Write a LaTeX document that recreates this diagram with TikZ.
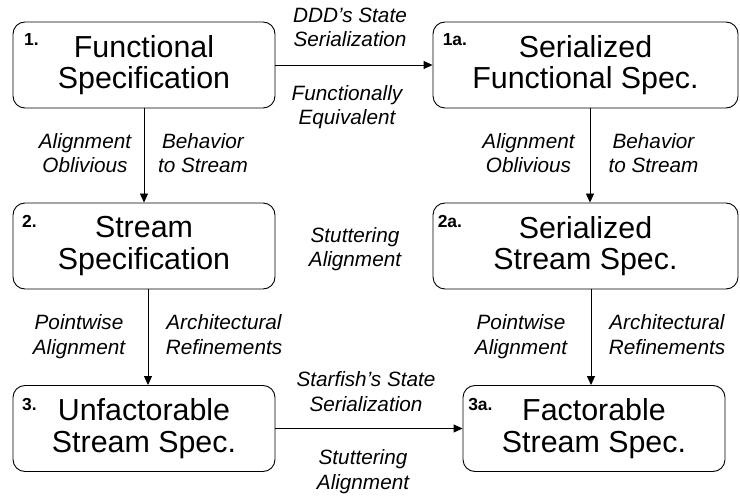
\documentclass[tikz,border=0pt]{standalone}
\usepackage{fontspec}
\setmainfont{Liberation Sans}
\usetikzlibrary{arrows.meta}

\begin{document}
\begin{tikzpicture}[x=1bp,y=-1bp,
  box/.style={draw, rounded corners=12bp, line width=0.9bp, align=center,
    inner sep=0pt, minimum height=86bp, minimum width=262bp,
    font=\fontsize{30.5}{31.6}\selectfont},
  widebox/.style={box, minimum width=305bp},
  tag/.style={font=\fontsize{17.5}{17.5}\selectfont\bfseries, anchor=base west, inner sep=0pt},
  lab/.style={font=\fontsize{20.8}{25}\selectfont\itshape, align=center, anchor=base, inner sep=0pt},
  arr/.style={-{Triangle[length=9bp,width=8bp]}, line width=0.9bp}]
\useasboundingbox (0,0) rectangle (740,497);

% specification boxes
\node[box]     (b1)  at (144,65)    {Functional\\Specification};
\node[widebox] (b1a) at (585.5,65)  {Serialized\\Functional Spec.};
\node[box]     (b2)  at (144,246)   {Stream\\Specification};
\node[widebox] (b2a) at (585.5,246) {Serialized\\Stream Spec.};
\node[box]     (b3)  at (144,428.5) {Unfactorable\\Stream Spec.};
\node[box]     (b3a) at (594,428.5) {Factorable\\Stream Spec.};

% step numbers
\node[tag] (t1)  at ([shift={(11.5,24)}]b1.north west)  {1.};
\node[tag] (t1a) at ([shift={(10,23.5)}]b1a.north west) {1a.};
\node[tag] (t2)  at ([shift={(9.5,24.5)}]b2.north west)  {2.};
\node[tag] (t2a) at ([shift={(5,25)}]b2a.north west) {2a.};
\node[tag] (t3)  at ([shift={(9.5,25)}]b3.north west)  {3.};
\node[tag] (t3a) at ([shift={(5.5,25)}]b3a.north west)  {3a.};

% refinement arrows
\draw[arr] (b1) -- (b1a);
\draw[arr] (b1.south) -- (b2.north);
\draw[arr] ([xshift=4.5bp]b1a.south) -- ([xshift=4.5bp]b1a.south |- b2a.north);
\draw[arr] ([xshift=4bp]b2.south) -- ([xshift=4bp]b2.south |- b3.north);
\draw[arr] ([xshift=5.5bp]b2a.south) -- ([xshift=5.5bp]b2a.south |- b3a.north);
\draw[arr] (b3) -- (b3a);

% arrow labels (placed by the baseline of their last line)
\node[lab] (l1t) at (350,47)   {DDD’s State\\Serialization};
\node[lab] (l1b) at (347,125)  {Functionally\\Equivalent};
\node[lab] (l2l) at (85,173)   {Alignment\\Oblivious};
\node[lab] (l2r) at (203,173)  {Behavior\\to Stream};
\node[lab] (l2al) at (528.5,173) {Alignment\\Oblivious};
\node[lab] (l2ar) at (653.5,173) {Behavior\\to Stream};
\node[lab] (lmid) at (355,267) {Stuttering\\Alignment};
\node[lab] (l3l) at (79,354)   {Pointwise\\Alignment};
\node[lab] (l3r) at (224,354)  {Architectural\\Refinements};
\node[lab] (l3al) at (521,354) {Pointwise\\Alignment};
\node[lab] (l3ar) at (667,354) {Architectural\\Refinements};
\node[lab] (l4t) at (366,411)  {Starfish’s State\\Serialization};
\node[lab] (l4b) at (363,489)  {Stuttering\\Alignment};
\end{tikzpicture}
\end{document}
